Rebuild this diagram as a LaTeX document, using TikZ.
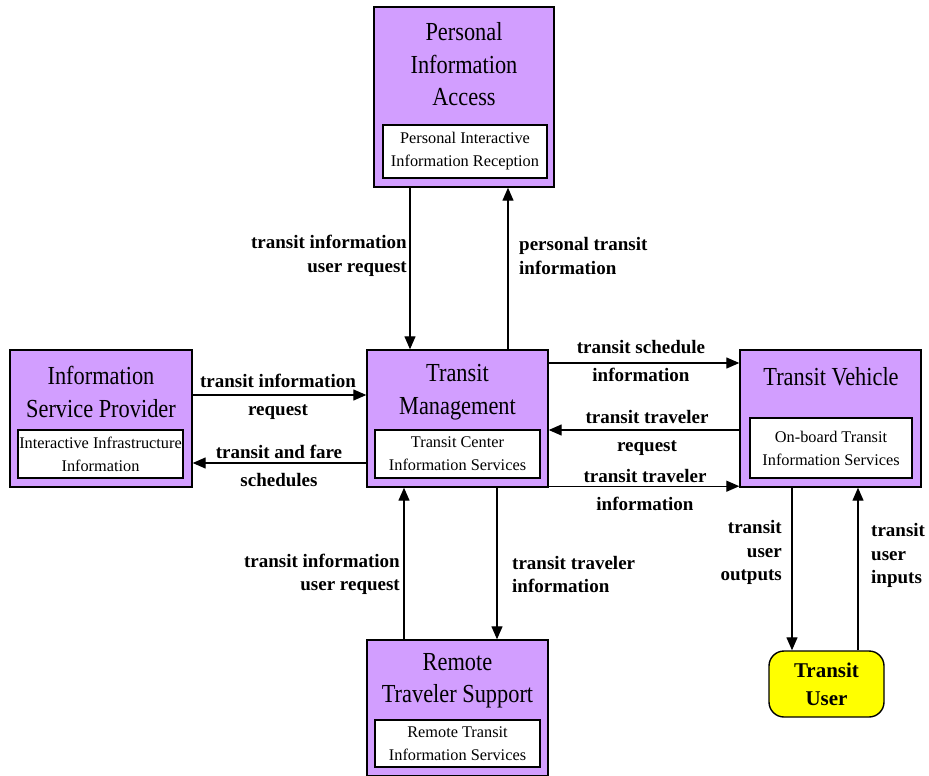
\documentclass[tikz,border=0pt]{standalone}
\usepackage{fontspec}
\setmainfont{Liberation Serif}
\newfontfamily\titlefont{Liberation Serif}[FakeStretch=0.86]
\usetikzlibrary{arrows.meta}
\definecolor{sysfill}{RGB}{210,158,255}
\definecolor{userfill}{RGB}{255,255,0}
\tikzset{
  sysbox/.style={draw=black,line width=1.4pt,fill=sysfill,inner sep=0pt},       % subsystem
  subbox/.style={draw=black,line width=1.2pt,fill=white,inner sep=0pt,align=center,
    font=\fontsize{16.3}{23}\selectfont},                                         % equipment package
  ttl/.style={inner sep=0pt,align=center,font=\titlefont\fontsize{26}{32.5}\selectfont},
  term/.style={draw=black,line width=1.4pt,fill=userfill,rounded corners=15pt,inner sep=0pt,
    align=center,font=\bfseries\fontsize{21}{28}\selectfont},                     % terminator
  flow/.style={-{Triangle[length=13pt,width=11pt]},line width=1.3pt},
  lblv/.style={inner sep=0pt,font=\bfseries\fontsize{19}{23.5}\selectfont},
  lblh/.style={inner sep=0pt,align=center,font=\bfseries\fontsize{19}{27.5}\selectfont},
}

\begin{document}
\begin{tikzpicture}[x=1pt,y=-1pt]
  \useasboundingbox (0,0) rectangle (929,776);
  % subsystems
  \node[sysbox,minimum width=180pt,minimum height=180pt] (pia) at (464,97) {};
  \node[sysbox,minimum width=182pt,minimum height=137pt] (isp) at (101,418.5) {};
  \node[sysbox,minimum width=181pt,minimum height=137pt] (tm) at (457.5,418.5) {};
  \node[sysbox,minimum width=181pt,minimum height=137pt] (tv) at (830.5,418.5) {};
  \node[sysbox,minimum width=181pt,minimum height=136pt] (rts) at (457.5,708) {};
  \node[term,minimum width=115pt,minimum height=66pt] (tu) at (826.5,684) {Transit\\User};
  % titles
  \node[ttl] (piattl) at (464,64.5) {Personal\\Information\\Access};
  \node[ttl] (ispttl) at (101,392) {Information\\Service Provider};
  \node[ttl] (tmttl) at (457.5,392) {Transit\\Management};
  \node[ttl] (tvttl) at (831,377) {Transit Vehicle};
  \node[ttl] (rtsttl) at (457.5,680.5) {Remote\\Traveler Support};
  % equipment packages
  \node[subbox,minimum width=164pt,minimum height=53pt] (piasub) at (465,151.5) {Personal Interactive\\Information Reception};
  \node[subbox,minimum width=165pt,minimum height=48pt] (ispsub) at (100.5,454) {Interactive Infrastructure\\Information};
  \node[subbox,minimum width=165pt,minimum height=48pt] (tmsub) at (457.5,454) {Transit Center\\Information Services};
  \node[subbox,minimum width=162pt,minimum height=60pt] (tvsub) at (831,448) {On-board Transit\\Information Services};
  \node[subbox,minimum width=165pt,minimum height=47pt] (rtssub) at (457.5,743.5) {Remote Transit\\Information Services};
  % flows
  \draw[flow] ([xshift=-54]pia.south) -- ([xshift=-54]pia.south |- tm.north);
  \draw[flow] ([xshift=50.5]tm.north) -- ([xshift=50.5]tm.north |- pia.south);
  \draw[flow] ([yshift=23.5]isp.east) -- ([yshift=23.5]isp.east -| tm.west);
  \draw[flow] ([yshift=-44.5]tm.west) -- ([yshift=-44.5]tm.west -| isp.east);
  \draw[flow] ([yshift=55.5]tm.east) -- ([yshift=55.5]tm.east -| tv.west);
  \draw[flow] ([yshift=-11.5]tv.west) -- ([yshift=-11.5]tv.west -| tm.east);
  \draw[flow] ([yshift=1.5]tm.south east) -- ([yshift=1.5]tm.south east -| tv.west);
  \draw[flow] ([xshift=-53.5]rts.north) -- ([xshift=-53.5]rts.north |- tm.south);
  \draw[flow] ([xshift=39.5]tm.south) -- ([xshift=39.5]tm.south |- rts.north);
  \draw[flow] ([xshift=-38.5]tv.south) -- ([xshift=-38.5]tv.south |- tu.north);
  \draw[flow] ([xshift=31.5]tu.north) -- ([xshift=31.5]tu.north |- tv.south);
  % flow labels
  \node[lblv,align=right,anchor=east] (l1) at (407,256) {transit information\\user request};
  \node[lblv,align=left,anchor=west] (l2) at (519,256) {personal transit\\information};
  \node[lblh] (l3) at (278,397) {transit information\\request};
  \node[lblh] (l4) at (279,466) {transit and fare\\schedules};
  \node[lblh] (l5) at (641,361) {transit schedule\\information};
  \node[lblh] (l6) at (647,433) {transit traveler\\request};
  \node[lblh] (l7) at (645,490) {transit traveler\\information};
  \node[lblv,align=right,anchor=east] (l8) at (400,574.5) {transit information\\user request};
  \node[lblv,align=left,anchor=west] (l9) at (512,574.5) {transit traveler\\information};
  \node[lblv,align=right,anchor=east] (l10) at (782,552.5) {transit\\user\\outputs};
  \node[lblv,align=left,anchor=west] (l11) at (871,555.5) {transit\\user\\inputs};
\end{tikzpicture}
\end{document}
